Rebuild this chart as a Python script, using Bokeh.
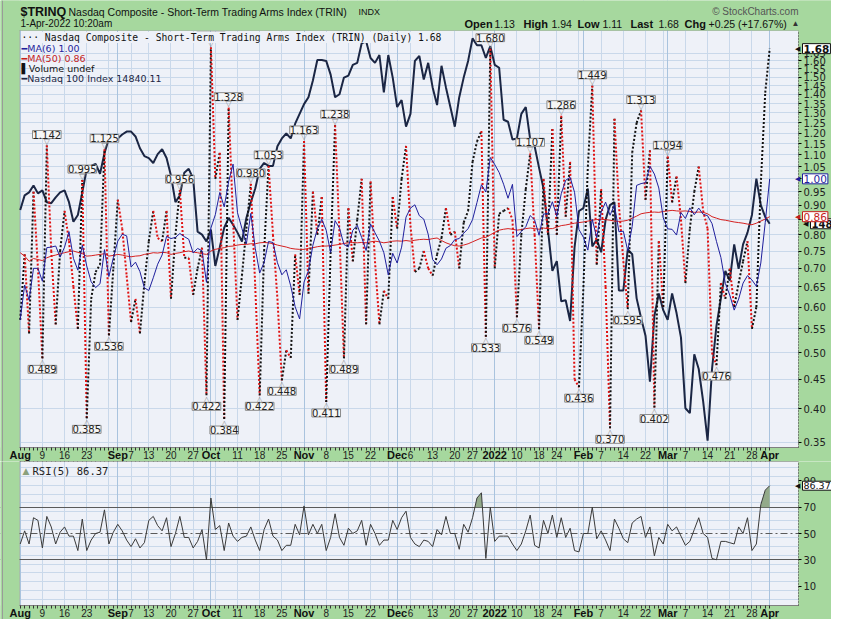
import math
import pandas as pd
from bokeh.plotting import figure
from bokeh.layouts import column
from bokeh.models import (Range1d, FixedTicker, PrintfTickFormatter, Label, LabelSet,
                          ColumnDataSource, Grid, BoxAnnotation, LinearAxis, LogAxis,
                          LinearScale, Span)
from bokeh.core.properties import value
from bokeh.embed import file_html
from bokeh.resources import INLINE

# ---------------- data ----------------
HOLIDAYS = ["2021-09-06", "2021-11-25", "2021-12-24", "2022-01-17", "2022-02-21"]
dates = pd.bdate_range("2021-08-02", "2022-04-01", freq="C", holidays=HOLIDAYS)

TRIN = [0.57, 0.74, 0.54, 0.95, 0.70, 0.489, 1.142, 0.75, 0.56, 0.75,
        0.88, 0.78, 0.65, 0.55, 0.995, 0.385, 0.62, 0.69, 0.71, 1.125,
        0.536, 0.70, 0.92, 0.82, 0.68, 0.565, 0.62, 0.54, 0.66, 0.78,
        0.88, 0.79, 0.78, 0.88, 0.62, 0.80, 0.956, 0.73, 0.73, 0.63,
        0.70, 0.76, 0.422, 1.69, 1.00, 1.11, 0.384, 1.328, 0.85, 0.57,
        0.68, 0.82, 0.980, 0.65, 0.422, 0.75, 1.053, 0.80, 0.62, 0.448,
        0.505, 0.49, 0.74, 0.63, 1.163, 0.633, 0.95, 0.80, 0.93, 0.411,
        0.75, 1.238, 0.80, 0.489, 0.89, 0.72, 0.85, 1.00, 0.56, 0.99,
        0.72, 0.56, 0.64, 0.62, 0.93, 0.82, 1.00, 1.14, 0.83, 0.69,
        0.70, 0.75, 0.70, 0.68, 0.74, 0.79, 0.89, 0.80, 0.81, 0.70,
        0.84, 0.88, 1.07, 1.16, 1.21, 0.533, 1.680, 0.70, 0.87, 0.88,
        0.89, 0.85, 0.576, 0.80, 0.96, 1.107, 0.80, 0.549, 1.00, 0.80,
        1.22, 0.80, 1.286, 0.86, 1.07, 0.45, 0.436, 0.65, 1.05, 1.449,
        0.71, 0.96, 0.65, 0.370, 1.27, 0.90, 0.72, 0.595, 1.11, 1.25,
        1.313, 0.92, 1.12, 0.402, 0.78, 0.60, 1.094, 0.91, 1.01, 0.85,
        0.66, 0.82, 0.95, 1.05, 0.88, 0.82, 0.50, 0.476, 0.66, 0.62,
        0.70, 0.60, 0.66, 0.72, 0.78, 0.55, 0.60, 0.98, 1.41, 1.68]

MA50 = [0.745, 0.735, 0.72, 0.728, 0.725, 0.722, 0.73, 0.735, 0.738, 0.742,
        0.745, 0.748, 0.75, 0.746, 0.742, 0.735, 0.736, 0.738, 0.74, 0.742,
        0.735, 0.737, 0.74, 0.738, 0.735, 0.733, 0.735, 0.736, 0.74, 0.742,
        0.745, 0.744, 0.746, 0.745, 0.74, 0.743, 0.745, 0.748, 0.75, 0.747,
        0.745, 0.742, 0.74, 0.75, 0.755, 0.758, 0.76, 0.764, 0.765, 0.768,
        0.77, 0.77, 0.772, 0.772, 0.775, 0.776, 0.775, 0.772, 0.768, 0.765,
        0.762, 0.758, 0.756, 0.755, 0.755, 0.758, 0.76, 0.763, 0.765, 0.765,
        0.766, 0.768, 0.77, 0.773, 0.775, 0.776, 0.775, 0.776, 0.775, 0.778,
        0.78, 0.778, 0.775, 0.777, 0.78, 0.781, 0.78, 0.782, 0.78, 0.783,
        0.785, 0.786, 0.785, 0.788, 0.79, 0.782, 0.775, 0.77, 0.766, 0.765,
        0.768, 0.772, 0.778, 0.784, 0.79, 0.792, 0.80, 0.808, 0.815, 0.818,
        0.82, 0.818, 0.815, 0.817, 0.82, 0.822, 0.82, 0.818, 0.822, 0.82,
        0.82, 0.825, 0.83, 0.832, 0.835, 0.838, 0.84, 0.842, 0.845, 0.848,
        0.85, 0.851, 0.85, 0.848, 0.845, 0.844, 0.845, 0.848, 0.855, 0.862,
        0.87, 0.873, 0.875, 0.876, 0.875, 0.878, 0.88, 0.882, 0.88, 0.879,
        0.88, 0.878, 0.875, 0.876, 0.875, 0.87, 0.86, 0.855, 0.85, 0.848,
        0.845, 0.842, 0.84, 0.838, 0.835, 0.833, 0.838, 0.845, 0.852, 0.86]

NDX = [14980, 15130, 15160, 15230, 15150, 15180, 15060, 15050, 15110, 15160,
       15180, 15060, 14860, 14930, 15160, 15400, 15430, 15450, 15350, 15560,
       15710, 15700, 15710, 15750, 15780, 15780, 15730, 15610, 15530, 15510,
       15460, 15550, 15600, 15510, 15330, 15060, 15130, 15360, 15400, 15300,
       14760, 14730, 14660, 14780, 14410, 14600, 14800, 14900, 14830, 14750,
       14660, 14900, 15060, 15200, 15400, 15460, 15430, 15430, 15630, 15710,
       15760, 15710, 15860, 15960, 16060, 16130, 16300, 16510, 16510, 16500,
       16360, 16130, 16160, 16330, 16350, 16460, 16480, 16680, 16700, 16530,
       16480, 16560, 16180, 16560, 16330, 16030, 16100, 15830, 15960, 16500,
       16550, 16310, 16480, 16230, 16050, 16450, 16230, 16030, 15830, 16130,
       16330, 16500, 16730, 16660, 16660, 16530, 16650, 16460, 16430, 15900,
       15880, 15700, 15710, 15960, 16030, 15700, 15630, 15410, 15200, 14780,
       14360, 14460, 14050, 14060, 13850, 14600, 14970, 15000, 15200, 14610,
       14680, 14550, 14880, 15030, 15060, 14160, 14160, 14580, 14530, 14080,
       13880, 13700, 13230, 13900, 14130, 13960, 13860, 14130, 13930, 13680,
       12960, 12910, 13510, 13360, 13030, 12630, 13360, 13800, 14080, 14360,
       14260, 14630, 14380, 14630, 14750, 14930, 15300, 15030, 14910, 14840.11]

RSI5 = [42, 52, 42, 62, 60, 39, 63, 55, 42, 51,
        55, 48, 48, 37, 61, 37, 45, 50, 51, 68,
        42, 51, 57, 52, 45, 40, 46, 39, 43, 60,
        63, 56, 52, 62, 40, 50, 63, 47, 47, 39,
        44, 53, 30, 77, 53, 56, 37, 58, 48, 44,
        47, 48, 55, 45, 37, 53, 61, 48, 45, 37,
        41, 41, 57, 49, 71, 49, 57, 50, 57, 37,
        47, 65, 47, 41, 54, 50, 52, 60, 41, 57,
        50, 41, 45, 45, 60, 53, 62, 67, 47, 42,
        40, 45, 44, 40, 53, 49, 63, 50, 50, 38,
        57, 51, 62, 77, 81, 31, 70, 44, 48, 48,
        48, 42, 37, 42, 52, 64, 41, 39, 60, 50,
        64, 47, 62, 47, 54, 37, 36, 50, 50, 70,
        46, 52, 45, 37, 61, 54, 46, 43, 58, 61,
        63, 47, 55, 33, 47, 42, 57, 52, 55, 48,
        41, 44, 53, 62, 50, 47, 31, 30, 44, 44,
        43, 42, 55, 50, 62, 37, 42, 72, 83, 86.37]

HIGH_IDX = [6, 14, 19, 36, 43, 47, 52, 56, 64, 71, 106, 115, 122, 129, 140, 146]
LOW_IDX = [5, 15, 20, 42, 46, 54, 59, 69, 73, 105, 112, 117, 126, 133, 137, 143, 157]

MONTH_TICK_DATES = ["2021-08-02", "2021-09-01", "2021-10-01", "2021-11-01", "2021-12-01",
                    "2022-01-03", "2022-02-01", "2022-03-01", "2022-04-01"]
MONTH_TICK_TEXT = ["Aug", "Sep", "Oct", "Nov", "Dec", "2022", "Feb", "Mar", "Apr"]
DAY_TICK_DATES = ["2021-08-09", "2021-08-16", "2021-08-23", "2021-09-07", "2021-09-13",
                  "2021-09-20", "2021-09-27", "2021-10-11", "2021-10-18", "2021-10-25",
                  "2021-11-08", "2021-11-15", "2021-11-22", "2021-12-06", "2021-12-13",
                  "2021-12-20", "2021-12-27", "2022-01-10", "2022-01-18", "2022-01-24",
                  "2022-02-07", "2022-02-14", "2022-02-22", "2022-03-07", "2022-03-14",
                  "2022-03-21", "2022-03-28"]
DAY_TICK_TEXT = ["9", "16", "23", "7", "13", "20", "27", "11", "18", "25", "8", "15", "22",
                 "6", "13", "20", "27", "10", "18", "24", "7", "14", "22", "7", "14", "21", "28"]

Y_TICKS = [0.35, 0.40, 0.45, 0.50, 0.55, 0.60, 0.65, 0.70, 0.75, 0.80, 0.85, 0.90, 0.95,
           1.00, 1.05, 1.10, 1.15, 1.20, 1.25, 1.30, 1.35, 1.40, 1.45, 1.50, 1.55, 1.60, 1.65]
RSI_TICKS = [10, 30, 50, 70, 90]

# panel value ranges
X0, X1 = -0.16, 175.5
TRIN_LO, TRIN_HI = 0.3428, 1.806
NDX_LO, NDX_HI = 12560, 16810
RSI_LO, RSI_HI = -4.8, 104.8

# ---------------- layout (pixels) ----------------
GREEN = "#a6d89e"
BG = "#eef1f8"
GRID = "#c9d8ea"
MGRID = "#a9c3de"
OUTLINE = "#808080"
W = 831
LEFT, RIGHT = 19, 798          # panel left / right edge
HDR, MAIN, STRIP = 30, 417, 14  # header, main panel, date strip heights
H1 = HDR + MAIN + STRIP
RSI_H = 144
H2 = RSI_H + STRIP

N = len(TRIN)
xi = list(range(N))
idx = {d.strftime("%Y-%m-%d"): i for i, d in enumerate(dates)}
week_starts = [i for i in range(N) if i == 0 or dates[i].weekday() < dates[i - 1].weekday()]
month_starts = [i for i in range(N) if i == 0 or dates[i].month != dates[i - 1].month]
ma6 = pd.Series(TRIN).rolling(6, min_periods=1).mean().tolist()

# frames cover the whole canvas; extend ranges so the panels land on their pixels
ppu = (RIGHT - LEFT) / (X1 - X0)
x_range = Range1d(X0 - LEFT / ppu, X1 + (W - RIGHT) / ppu)
lt, lb = math.log10(TRIN_HI), math.log10(TRIN_LO)
ppd = MAIN / (lt - lb)
y1_range = Range1d(10 ** (lb - STRIP / ppd), 10 ** (lt + HDR / ppd))
ppn = MAIN / (NDX_HI - NDX_LO)
ndx_range = Range1d(NDX_LO - STRIP / ppn, NDX_HI + HDR / ppn)
ppr = RSI_H / (RSI_HI - RSI_LO)
y2_range = Range1d(RSI_LO - STRIP / ppr, RSI_HI)


def make_fig(height, yr, log=False):
    p = figure(width=W, height=height, x_range=x_range, y_range=yr,
               y_axis_type="log" if log else "linear",
               x_axis_location=None, y_axis_location=None,
               toolbar_location=None, output_backend="svg", title=None,
               min_border_left=0, min_border_right=0, min_border_top=0, min_border_bottom=0,
               background_fill_color=GREEN, border_fill_color=GREEN, outline_line_color=None)
    p.grid.visible = False
    p.add_layout(Span(location=2, location_units="screen", dimension="height",
                      line_color="#9a9a9a", line_width=1))
    return p


def panel(p, ylo, yhi, yticks_grid, extra_grids=()):
    yr = p.y_range
    p.add_layout(BoxAnnotation(left=X0, right=X1, bottom=ylo, top=yhi, fill_color=BG,
                               fill_alpha=1, line_color=None, level="underlay"))
    p.add_layout(Grid(dimension=0, ticker=FixedTicker(ticks=week_starts),
                      grid_line_color=GRID, level="underlay"))
    p.add_layout(Grid(dimension=1, ticker=FixedTicker(ticks=yticks_grid),
                      grid_line_color=GRID, level="underlay"))
    p.add_layout(Grid(dimension=0, ticker=FixedTicker(ticks=month_starts),
                      grid_line_color=MGRID, level="underlay"))
    for g in extra_grids:
        p.add_layout(g)
    xr = p.x_range
    for kw in [dict(left=xr.start, right=X0, bottom=yr.start, top=yr.end),
               dict(left=X1, right=xr.end, bottom=yr.start, top=yr.end),
               dict(left=xr.start, right=xr.end, bottom=yhi, top=yr.end),
               dict(left=xr.start, right=xr.end, bottom=yr.start, top=ylo)]:
        p.add_layout(BoxAnnotation(fill_color=GREEN, fill_alpha=1, line_color=None,
                                   level="underlay", **kw))
    p.add_layout(BoxAnnotation(left=X0, right=X1, bottom=ylo, top=yhi, fill_alpha=0,
                               line_color=OUTLINE, line_width=1, level="underlay"))


def day_axis(p, loc, side):
    ax = LinearAxis(fixed_location=loc, ticker=FixedTicker(ticks=xi), bounds=(X0, X1),
                    major_tick_out=3, major_tick_in=0, minor_tick_line_color=None,
                    major_tick_line_color="#333333", axis_line_color=OUTLINE,
                    major_label_text_font_size="1px", major_label_text_alpha=0,
                    major_label_standoff=0)
    p.add_layout(ax, side)


def value_axis(p, cls, ticks, lo, hi, fmt):
    ax = cls(fixed_location=X1, ticker=FixedTicker(ticks=ticks), bounds=(lo, hi),
             formatter=PrintfTickFormatter(format=fmt),
             major_label_text_font_size="10px", major_label_text_font="DejaVu Sans",
             major_label_text_color="#222222", major_tick_out=3, major_tick_in=0,
             minor_tick_line_color=None, axis_line_color="#444444", axis_line_dash="1 2",
             major_label_standoff=2)
    p.add_layout(ax, "right")


def date_labels(p):
    msrc = ColumnDataSource(dict(x=[idx[d] for d in MONTH_TICK_DATES],
                                 y=[STRIP / 2] * len(MONTH_TICK_DATES), t=MONTH_TICK_TEXT))
    dsrc = ColumnDataSource(dict(x=[idx[d] for d in DAY_TICK_DATES],
                                 y=[STRIP / 2] * len(DAY_TICK_DATES), t=DAY_TICK_TEXT))
    p.add_layout(LabelSet(x="x", y="y", text="t", source=dsrc, y_units="screen",
                          text_align="center", text_baseline="middle",
                          text_font=value("Liberation Sans"), text_font_size="10px",
                          text_color="#222222"))
    p.add_layout(LabelSet(x="x", y="y", text="t", source=msrc, y_units="screen",
                          text_align="center", text_baseline="middle",
                          text_font=value("Liberation Sans"), text_font_style="bold",
                          text_font_size="11px", text_color="#111111"))


def tag(p, y, txt, color, bold=False, dx=4, y_range_name="default", size="10.5px"):
    p.add_layout(Label(x=RIGHT + dx - 2, y=y, x_units="screen", text="\u25c0",
                       text_font="DejaVu Sans", text_font_size="7px", text_color=color,
                       text_baseline="middle", text_align="right", y_range_name=y_range_name))
    p.add_layout(Label(x=RIGHT + dx, y=y, x_units="screen", text=txt, text_font="DejaVu Sans",
                       text_font_size=size, text_font_style="bold" if bold else "normal",
                       text_color=color, text_baseline="middle", text_align="left",
                       background_fill_color="white", border_line_color=color,
                       y_range_name=y_range_name, padding=1))


# ---------------- main panel ----------------
p1 = make_fig(H1, y1_range, log=True)
p1.extra_y_ranges = {"ndx": ndx_range}
p1.extra_y_scales = {"ndx": LinearScale()}
panel(p1, TRIN_LO, TRIN_HI, Y_TICKS)
day_axis(p1, TRIN_LO, "below")
value_axis(p1, LogAxis, Y_TICKS, TRIN_LO, TRIN_HI, "%.2f")

p1.line(xi, NDX, y_range_name="ndx", line_color="#1b2644", line_width=2)

seg_x, seg_y, seg_c = [], [], []
for i in range(N - 1):
    seg_x.append([i, i + 1])
    seg_y.append([TRIN[i], TRIN[i + 1]])
    seg_c.append("#111111" if TRIN[i + 1] >= TRIN[i] else "#e01010")
p1.multi_line(seg_x, seg_y, line_color=seg_c, line_width=2, line_dash="2 2")

p1.line(xi, MA50, line_color="#d42020", line_width=1)
p1.line(xi, ma6, line_color="#1f1f9c", line_width=1)

# peak / trough tags
px = HIGH_IDX + LOW_IDX
psrc = ColumnDataSource(dict(
    x=px, y=[TRIN[i] for i in px], t=["%.3f" % TRIN[i] for i in px],
    yo=[11] * len(HIGH_IDX) + [-11] * len(LOW_IDX),
    po=[4] * len(HIGH_IDX) + [-4] * len(LOW_IDX),
    pt=["\u25bd"] * len(HIGH_IDX) + ["\u25b3"] * len(LOW_IDX)))
p1.add_layout(LabelSet(x="x", y="y", text="pt", y_offset="po", source=psrc,
                       text_align="center", text_baseline="middle",
                       text_font=value("DejaVu Sans"), text_font_size="8px",
                       text_color="#8c8c8c"))
p1.add_layout(LabelSet(x="x", y="y", text="t", y_offset="yo", source=psrc,
                       text_align="center", text_baseline="middle",
                       text_font=value("DejaVu Sans"), text_font_size="10px",
                       text_color="#222222", background_fill_color="#f6f6f6",
                       border_line_color="#8c8c8c"))

# legend lines (screen units from canvas bottom-left)
top_of_panel = STRIP + MAIN
p1.add_layout(Label(x=LEFT + 2, y=top_of_panel - 7, x_units="screen", y_units="screen",
                    text="\u00b7\u00b7\u00b7 Nasdaq Composite - Short-Term Trading Arms Index (TRIN) (Daily) %.2f" % TRIN[-1],
                    text_font="DejaVu Sans Mono", text_font_size="9.7px", text_color="#111111",
                    text_baseline="middle", background_fill_color=BG))
legend_rows = [("\u2501MA(6) %.2f" % ma6[-1], "#1f1f9c", 18),
               ("\u2501MA(50) %.2f" % MA50[-1], "#c41c1c", 28),
               ("\u258cVolume undef", "#111111", 38),
               ("\u2501Nasdaq 100 Index %.2f" % NDX[-1], "#1b2644", 48)]
for txt, col, dy in legend_rows:
    p1.add_layout(Label(x=LEFT + 2, y=top_of_panel - dy, x_units="screen", y_units="screen",
                        text=txt, text_font="DejaVu Sans", text_font_size="9.5px",
                        text_color=col, text_baseline="middle"))


def hdr(x, y, txt, size="11px", bold=False, color="#111111", align="left",
        font="Liberation Sans"):
    p1.add_layout(Label(x=x, y=y, x_units="screen", y_units="screen", text=txt,
                        text_font=font, text_font_size=size,
                        text_font_style="bold" if bold else "normal",
                        text_color=color, text_align=align, text_baseline="middle"))


ROW1, ROW2 = H1 - 11, H1 - 23
hdr(LEFT + 1, ROW1, "$TRINQ", size="12.5px", bold=True)
hdr(LEFT + 49, ROW1, "Nasdaq Composite - Short-Term Trading Arms Index (TRIN)", size="10.5px")
hdr(LEFT + 339, ROW1, "INDX", size="9px")
hdr(LEFT + 1, ROW2, "1-Apr-2022 10:20am", size="10px")
hdr(RIGHT, ROW1, "\u00a9 StockCharts.com", size="10px", color="#555555", align="right")
for txt, dx, bold in [("Open", 334, True), ("1.13", 304, False), ("High", 275, True),
                      ("1.94", 247, False), ("Low", 221, True), ("1.11", 196, False),
                      ("Last", 168, True), ("1.68", 140, False), ("Chg", 114, True),
                      ("+0.25 (+17.67%)", 90, False)]:
    hdr(RIGHT - dx, ROW2, txt, size="11px" if bold else "10.5px", bold=bold)
hdr(RIGHT - 7, ROW2, "\u25b2", size="8px", color="#333333")

tag(p1, NDX[-1], "%.2f" % NDX[-1], "#111111", bold=True, dx=12, y_range_name="ndx", size="10px")
tag(p1, MA50[-1], "%.2f" % MA50[-1], "#c41c1c")
tag(p1, ma6[-1], "%.2f" % ma6[-1], "#1f1f9c")
tag(p1, TRIN[-1], "%.2f" % TRIN[-1], "#111111", bold=True)
date_labels(p1)

# ---------------- RSI panel ----------------
p2 = make_fig(H2, y2_range)
rsi_grid = [k * 20.0 / 3.0 for k in range(16)]
extra = [Grid(dimension=1, ticker=FixedTicker(ticks=[30, 70]), grid_line_color="#5a5a5a",
              level="underlay"),
         Grid(dimension=1, ticker=FixedTicker(ticks=[50]), grid_line_color="#5a5a5a",
              grid_line_dash="7 3 2 3", level="underlay")]
panel(p2, RSI_LO, RSI_HI, rsi_grid, extra)
day_axis(p2, RSI_LO, "below")
day_axis(p2, RSI_HI, "above")
value_axis(p2, LinearAxis, RSI_TICKS, RSI_LO, RSI_HI, "%d")

fx, fy = [], []
for i in range(N):
    if i > 0:
        a, b = RSI5[i - 1], RSI5[i]
        if (a - 70) * (b - 70) < 0:
            fx.append(i - 1 + (70 - a) / (b - a))
            fy.append(70.0)
    fx.append(i)
    fy.append(max(RSI5[i], 70.0))
p2.varea(x=fx, y1=70, y2=fy, fill_color="#93aa8a")
p2.line(xi, RSI5, line_color="#3a3a3a", line_width=1)

p2.add_layout(Label(x=LEFT + 3, y=H2 - 9, x_units="screen", y_units="screen", text="\u25b2",
                    text_font="DejaVu Sans", text_font_size="9px", text_color="#8aa07c",
                    text_baseline="middle"))
p2.add_layout(Label(x=LEFT + 13, y=H2 - 9, x_units="screen", y_units="screen",
                    text="RSI(5) %.2f" % RSI5[-1], text_font="DejaVu Sans Mono",
                    text_font_size="10.5px", text_color="#222222", text_baseline="middle"))
tag(p2, RSI5[-1], "%.2f" % RSI5[-1], "#111111", size="9.5px")
date_labels(p2)

layout = column(p1, p2, spacing=0)
open("out.html", "w").write(file_html(layout, INLINE))
